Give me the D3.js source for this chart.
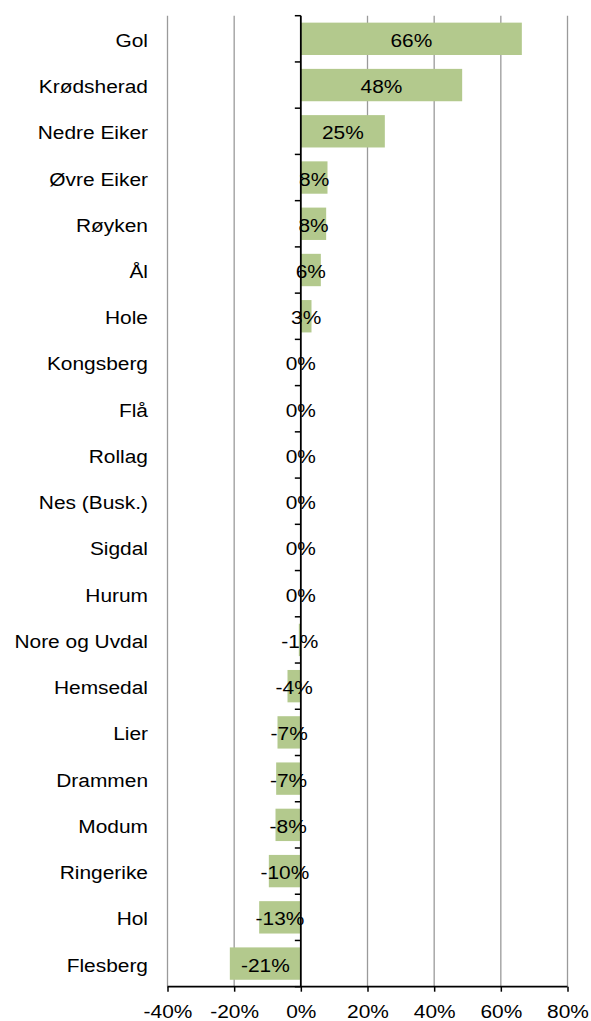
<!DOCTYPE html>
<html>
<head>
<meta charset="utf-8">
<script src="https://cdn.jsdelivr.net/npm/d3@7"></script>
<style>
  body { margin: 0; background: #fff; }
  text { font-family: "Liberation Sans", Arial, sans-serif; fill: #000; }
</style>
</head>
<body>
<svg id="chart" width="591" height="1021"></svg>
<script>
// categories top to bottom
const municipalities = ["Gol", "Krødsherad", "Nedre Eiker", "Øvre Eiker", "Røyken", "Ål", "Hole",
  "Kongsberg", "Flå", "Rollag", "Nes (Busk.)", "Sigdal", "Hurum", "Nore og Uvdal", "Hemsedal",
  "Lier", "Drammen", "Modum", "Ringerike", "Hol", "Flesberg"];

// change in percent
const changes = [66.3, 48.4, 25.2, 8.0, 7.6, 6.0, 3.2,
  0, 0, 0, 0, 0, 0, -0.6, -4.0,
  -7.0, -7.4, -7.6, -9.6, -12.5, -21.3];

const xTicks = [-40, -20, 0, 20, 40, 60, 80];

const svg = d3.select("#chart");

// plot area
const plotLeft = 167.5, plotRight = 567.5, plotTop = 15.7, plotBottom = 986.7;
const stretch = 1.1; // labels look a bit wider than tall

const x = d3.scaleLinear().domain([-40, 80]).range([plotLeft, plotRight]);
const y = d3.scaleBand().domain(municipalities).range([plotTop, plotBottom])
  .paddingInner(0.3).paddingOuter(0.15);

// hyphen minus like the original
const fmt = d3.formatLocale({ decimal: ".", thousands: ",", grouping: [3], currency: ["", ""], minus: "-" }).format(".0%");

// gridlines
svg.append("g")
  .selectAll("line")
  .data(xTicks.filter(d => d !== 0))
  .join("line")
  .attr("x1", d => x(d)).attr("x2", d => x(d))
  .attr("y1", plotTop).attr("y2", plotBottom)
  .attr("stroke", "#9a9a9a")
  .attr("stroke-width", 1.3);

// bars
svg.append("g")
  .selectAll("rect")
  .data(municipalities)
  .join("rect")
  .attr("x", (d, i) => x(Math.min(0, changes[i])))
  .attr("y", d => y(d))
  .attr("width", (d, i) => Math.abs(x(changes[i]) - x(0)))
  .attr("height", y.bandwidth())
  .attr("fill", "#b3c98d");

// x axis
const xAxis = svg.append("g")
  .attr("transform", `translate(0,${plotBottom})`)
  .call(d3.axisBottom(x).tickValues(xTicks).tickSize(5).tickFormat(d => fmt(d / 100)));
xAxis.select(".domain").attr("stroke", "#000").attr("stroke-width", 1.8).attr("d", `M${plotLeft},0H${plotRight}`);
xAxis.selectAll(".tick line").attr("stroke", "#000").attr("stroke-width", 1.5);
xAxis.selectAll(".tick text").remove();
xAxis.selectAll(".tick").append("g")
  .attr("transform", `translate(0,31.5) scale(${stretch},1)`)
  .append("text")
  .attr("text-anchor", "middle")
  .style("font-size", "19px")
  .text(d => fmt(d / 100));

// y axis at zero with ticks between categories
const bounds = municipalities.map(d => y(d) - y.step() * y.paddingInner() / 2).concat([plotBottom]);
bounds[0] = plotTop;
svg.append("g")
  .selectAll("line")
  .data(bounds)
  .join("line")
  .attr("x1", x(0) - 6).attr("x2", x(0))
  .attr("y1", d => d).attr("y2", d => d)
  .attr("stroke", "#000").attr("stroke-width", 1.5);
svg.append("line")
  .attr("x1", x(0)).attr("x2", x(0))
  .attr("y1", plotTop).attr("y2", plotBottom)
  .attr("stroke", "#000").attr("stroke-width", 1.8);

// category labels
svg.append("g")
  .selectAll("g")
  .data(municipalities)
  .join("g")
  .attr("transform", d => `translate(148,${y(d) + y.bandwidth() / 2 + 8}) scale(${stretch},1)`)
  .append("text")
  .attr("text-anchor", "end")
  .style("font-size", "19px")
  .text(d => d);

// value labels centred on bars
svg.append("g")
  .selectAll("g")
  .data(municipalities)
  .join("g")
  .attr("transform", (d, i) => `translate(${(x(0) + x(changes[i])) / 2},${y(d) + y.bandwidth() / 2 + 8}) scale(${stretch},1)`)
  .append("text")
  .attr("text-anchor", "middle")
  .style("font-size", "19px")
  .text((d, i) => fmt(changes[i] / 100));
</script>
</body>
</html>
